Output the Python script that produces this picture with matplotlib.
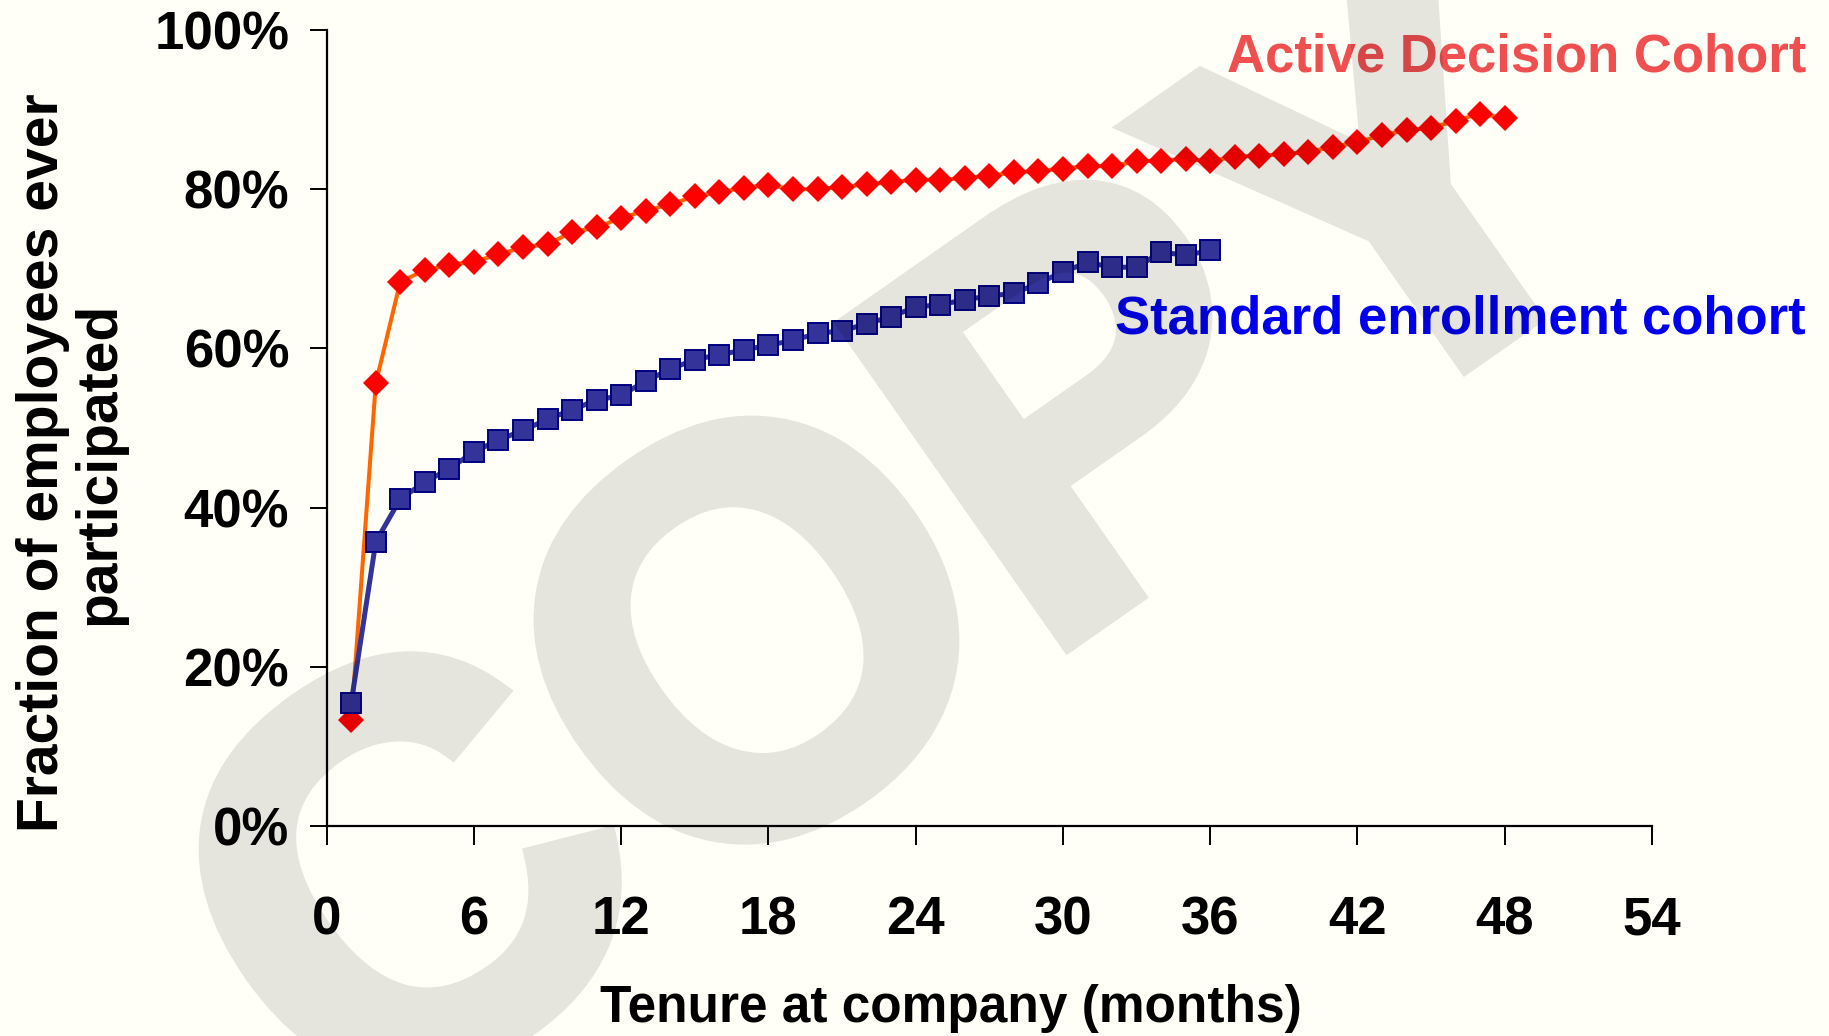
import matplotlib
matplotlib.use("Agg")
import matplotlib.pyplot as plt
from matplotlib.ticker import PercentFormatter, FixedLocator
from matplotlib import patheffects

# Cumulative participation by tenure (months), percent of employees
active_months = list(range(1, 49))
active_pct = [13.3, 55.6, 68.4, 69.8, 70.5, 70.9, 71.8, 72.7, 73.1, 74.6,
              75.2, 76.4, 77.3, 78.1, 79.1, 79.6, 80.2, 80.5, 80.0, 80.0,
              80.3, 80.6, 80.9, 81.2, 81.2, 81.4, 81.7, 82.1, 82.3, 82.6,
              82.9, 82.9, 83.5, 83.6, 83.8, 83.5, 84.1, 84.2, 84.4, 84.7,
              85.3, 85.9, 86.8, 87.4, 87.7, 88.6, 89.5, 88.9]

standard_months = list(range(1, 37))
standard_pct = [15.5, 35.7, 41.1, 43.2, 44.9, 47.0, 48.5, 49.7, 51.1, 52.3,
                53.5, 54.1, 55.9, 57.4, 58.6, 59.2, 59.8, 60.4, 61.0, 61.9,
                62.2, 63.1, 64.0, 65.2, 65.5, 66.1, 66.6, 66.9, 68.2, 69.6,
                70.8, 70.2, 70.2, 72.1, 71.7, 72.3]

x_ticks = [0, 6, 12, 18, 24, 30, 36, 42, 48, 54]
y_ticks = [0, 20, 40, 60, 80, 100]

BG = "#fffff8"
FONT = ["Liberation Sans", "Arial", "DejaVu Sans"]
plt.rcParams["font.family"] = FONT
plt.rcParams["font.weight"] = "bold"

W, H = 1829, 1036
fig = plt.figure(figsize=(W / 100, H / 100), dpi=100, facecolor=BG)
ax = fig.add_axes([326.7 / W, 1 - 826 / H, (1652 - 326.7) / W, (826 - 30) / H])
ax.set_facecolor(BG)

ax.plot(active_months, active_pct, color="#ff6600", lw=2.9,
        marker="D", ms=13.3, mfc="#ff0000", mec="#ff0000", mew=0, zorder=3,
        clip_on=False)
ax.plot(standard_months, standard_pct, color="#333399", lw=3.6,
        marker="s", ms=14.3, mfc="#333399", mec="#000080", mew=1.4, zorder=4,
        clip_on=False)

ax.set_xlim(0, 54)
ax.set_ylim(0, 100)
ax.xaxis.set_major_locator(FixedLocator(x_ticks))
ax.yaxis.set_major_locator(FixedLocator(y_ticks))
ax.yaxis.set_major_formatter(PercentFormatter(decimals=0))

for side in ("top", "right"):
    ax.spines[side].set_visible(False)
for side in ("left", "bottom"):
    ax.spines[side].set_linewidth(1.6)
    ax.spines[side].set_color("black")

ax.tick_params(axis="x", direction="out", length=14, width=1.4, pad=36,
               labelsize=38)
ax.tick_params(axis="y", direction="out", length=12, width=1.4, pad=15,
               labelsize=38)
for lbl in ax.get_xticklabels() + ax.get_yticklabels():
    lbl.set_fontweight("bold")

ax.set_xlabel("Tenure at company (months)", fontsize=37, fontweight="bold",
              va="baseline")
ax.xaxis.set_label_coords(0.471, -0.246)
ax.set_ylabel("Fraction of employees ever\nparticipated", fontsize=41,
              fontweight="bold", va="center", ha="center", linespacing=1.05)
ax.yaxis.set_label_coords(-0.193, 0.456)

fig.text(1806 / W, 1 - 72 / H, "Active Decision Cohort", color="#ef4f4f",
         fontsize=38, fontweight="bold", ha="right", va="baseline")
fig.text(1806 / W, 1 - 333 / H, "Standard enrollment cohort", color="#0000ee",
         fontsize=38, fontweight="bold", ha="right", va="baseline")


def fade(img, dpi):
    """Give the whole stamp one uniform, light opacity."""
    out = img.copy()
    out[..., 3] *= 0.105
    return out, 0, 0


# Translucent stamp laid over the whole figure
stamp = fig.text(1000 / W, 1 - 690 / H, "COPY", fontsize=405,
                 fontweight="bold", color="black", rotation=35,
                 rotation_mode="anchor", ha="center", va="baseline",
                 zorder=20,
                 path_effects=[patheffects.withStroke(linewidth=14,
                                                      foreground="black",
                                                      joinstyle="miter")])
stamp.set_agg_filter(fade)

fig.savefig("out.png", dpi=100, facecolor=BG)
